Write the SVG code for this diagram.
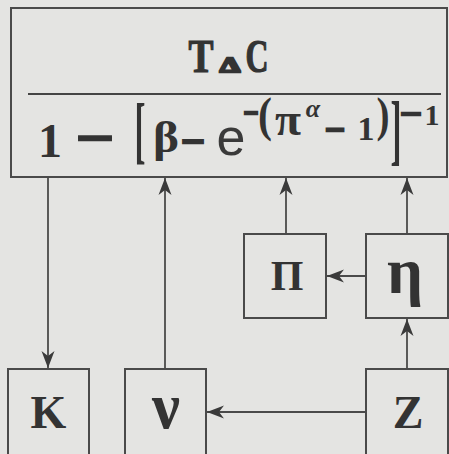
<svg xmlns="http://www.w3.org/2000/svg" width="449" height="454" viewBox="0 0 449 454">
<defs>
<style>
.bg{fill:#e4e4e2}
.box{fill:#e4e4e2;stroke:#4a4a4a;stroke-width:2}
.ln{fill:none;stroke:#4a4a4a;stroke-width:1.8}
.t{font-family:"Liberation Serif","DejaVu Serif",serif;font-weight:bold;fill:#333;text-anchor:middle}
.s{font-family:"Liberation Sans","DejaVu Sans",sans-serif;font-weight:normal;fill:#3a3a3a;text-anchor:middle}
.d{stroke:#333;stroke-width:2.5}
.h{stroke:#333;stroke-width:1.2}
</style>
<marker id="ah" markerUnits="userSpaceOnUse" markerWidth="20" markerHeight="16" viewBox="-18 -8 20 16" refX="0" refY="0" orient="auto">
<path d="M0,0 L-17,-6.5 L-12,0 L-17,6.5 Z" fill="#3a3a3a"/>
</marker>
</defs>
<rect class="bg" x="0" y="0" width="449" height="454"/>

<g id="formula">
<rect class="box" x="11" y="8" width="436" height="169"/>
<line x1="28" y1="94" x2="441" y2="94" stroke="#444" stroke-width="2"/>
<text class="t h" x="201" y="72" font-size="46" textLength="25" lengthAdjust="spacingAndGlyphs">T</text>
<text class="t d" x="230" y="72" font-size="22" stroke-width="1" textLength="20" lengthAdjust="spacingAndGlyphs">Δ</text>
<text class="t h" x="257" y="72" font-size="46" textLength="23" lengthAdjust="spacingAndGlyphs">C</text>

<text class="t" x="50" y="157" font-size="48">1</text>
<text class="t d" x="95" y="150" font-size="48" textLength="30" lengthAdjust="spacingAndGlyphs">–</text>
<text class="t" x="140" y="155" font-size="75" font-weight="normal" textLength="11" lengthAdjust="spacingAndGlyphs">[</text>
<text class="t" x="166" y="152" font-size="44" textLength="26" lengthAdjust="spacingAndGlyphs">β</text>
<text class="t d" x="193" y="151" font-size="40" textLength="19" lengthAdjust="spacingAndGlyphs">–</text>
<text class="s" x="231" y="155" font-size="52">e</text>
<text class="t d" x="251" y="120" font-size="30" textLength="12" lengthAdjust="spacingAndGlyphs">–</text>
<text class="t" x="265" y="131" font-size="48" textLength="14" lengthAdjust="spacingAndGlyphs">(</text>
<text class="t" x="288" y="135" font-size="46" textLength="26" lengthAdjust="spacingAndGlyphs">π</text>
<text class="t" x="313" y="117" font-size="26" font-style="italic" font-weight="normal">α</text>
<text class="t d" x="335" y="138" font-size="34" textLength="16" lengthAdjust="spacingAndGlyphs">–</text>
<text class="t" x="366" y="140" font-size="34">1</text>
<text class="t" x="383" y="131" font-size="48" textLength="13" lengthAdjust="spacingAndGlyphs">)</text>
<text class="t" x="396" y="155" font-size="78" font-weight="normal" textLength="11" lengthAdjust="spacingAndGlyphs">]</text>
<text class="t d" x="411" y="121" font-size="30" textLength="17" lengthAdjust="spacingAndGlyphs">–</text>
<text class="t" x="432" y="125" font-size="30">1</text>
</g>

<g id="node-pi">
<rect class="box" x="244" y="234" width="82" height="84"/>
<text class="t" x="287" y="290" font-size="42">Π</text>
</g>
<g id="node-eta">
<rect class="box" x="366" y="234" width="82" height="84"/>
<text class="t" x="405" y="293" font-size="66" textLength="36" lengthAdjust="spacingAndGlyphs">η</text>
</g>
<g id="node-k">
<rect class="box" x="8" y="369" width="81" height="95"/>
<text class="t" x="48.5" y="428" font-size="46">K</text>
</g>
<g id="node-nu">
<rect class="box" x="125" y="369" width="81" height="95"/>
<text class="t" x="166" y="428" font-size="66" textLength="28" lengthAdjust="spacingAndGlyphs">ν</text>
</g>
<g id="node-z">
<rect class="box" x="366" y="369" width="82" height="95"/>
<text class="t" x="408" y="428" font-size="46">Z</text>
</g>

<g id="connectors">
<line class="ln" x1="48" y1="177" x2="48" y2="368" marker-end="url(#ah)"/>
<line class="ln" x1="165" y1="369" x2="165" y2="178" marker-end="url(#ah)"/>
<line class="ln" x1="286" y1="234" x2="286" y2="178" marker-end="url(#ah)"/>
<line class="ln" x1="407" y1="234" x2="407" y2="178" marker-end="url(#ah)"/>
<line class="ln" x1="366" y1="276" x2="327" y2="276" marker-end="url(#ah)"/>
<line class="ln" x1="407" y1="369" x2="407" y2="319" marker-end="url(#ah)"/>
<line class="ln" x1="366" y1="412" x2="207" y2="412" marker-end="url(#ah)"/>
</g>
</svg>
